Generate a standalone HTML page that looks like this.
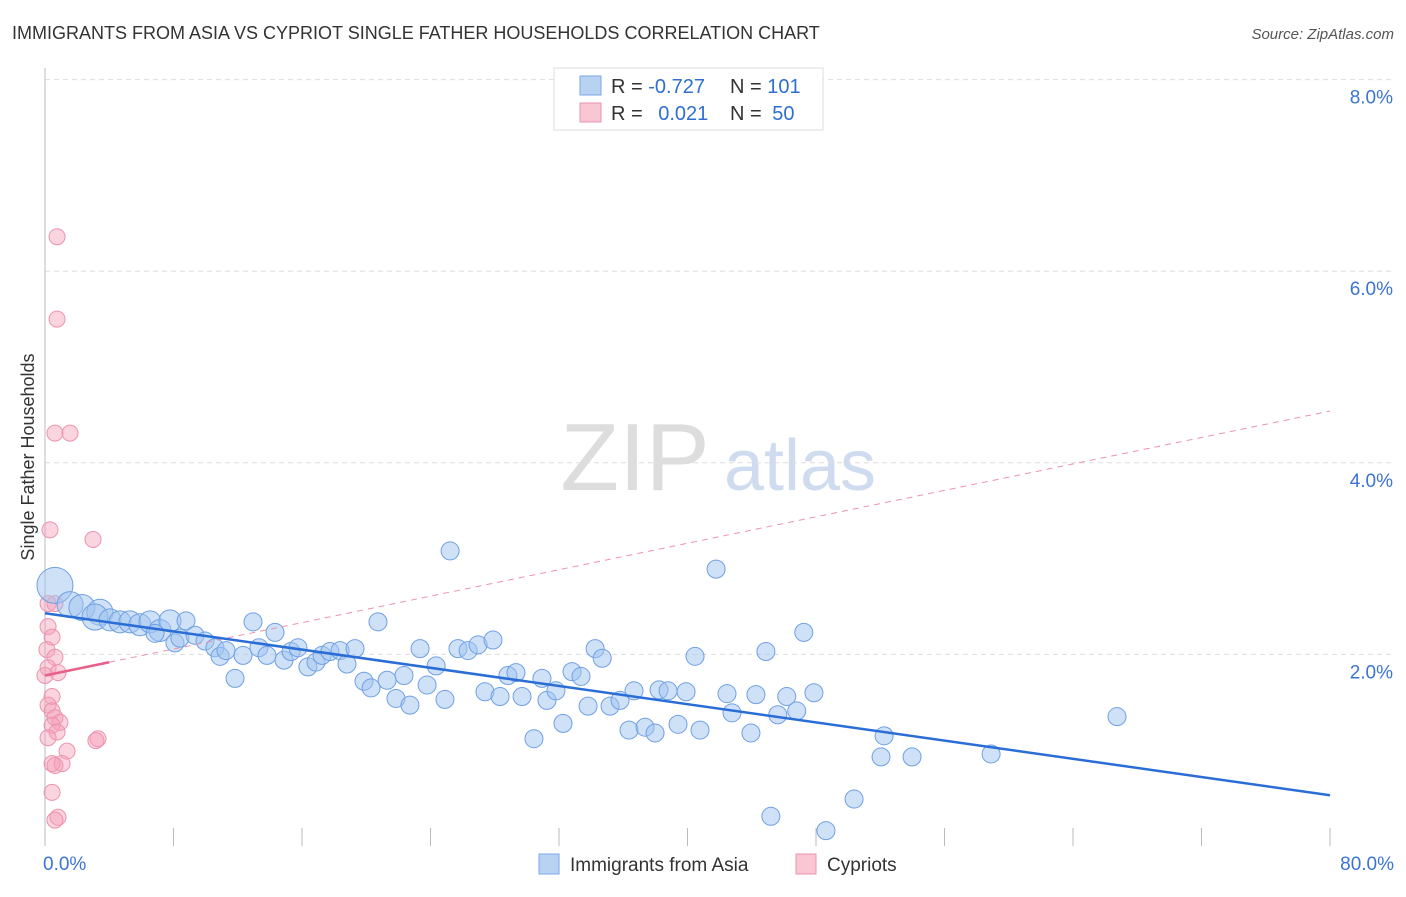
<!DOCTYPE html>
<html><head><meta charset="utf-8"><style>
body{margin:0;background:#fff;font-family:"Liberation Sans",sans-serif}
svg text{font-family:"Liberation Sans",sans-serif}
</style></head><body>
<svg id="c" width="1406" height="892" xmlns="http://www.w3.org/2000/svg">
<text x="12" y="39" font-size="18" fill="#333">IMMIGRANTS FROM ASIA VS CYPRIOT SINGLE FATHER HOUSEHOLDS CORRELATION CHART</text>
<text x="1394" y="39" font-size="15" fill="#555" font-style="italic" text-anchor="end">Source: ZipAtlas.com</text>
<text x="34" y="457" font-size="18" fill="#333" text-anchor="middle" transform="rotate(-90 34 457)">Single Father Households</text>
<g><text x="635" y="490" font-size="96" fill="#ddd" font-family="Liberation Serif" text-anchor="middle">ZIP</text><text x="800" y="490" font-size="72" fill="#cfdcf0" text-anchor="middle">atlas</text></g>
<g id="grid"></g><g id="marks"></g>
<g>
<rect x="554" y="68" width="269" height="62" fill="#fff" stroke="#ddd"/>
<rect x="580" y="76" width="21" height="19" fill="#b8d2f2" stroke="#7aa8e6"/>
<rect x="580" y="103" width="21" height="19" fill="#f9c6d4" stroke="#ec93ae"/>
<text x="611" y="93" font-size="20" fill="#333">R = <tspan fill="#2f6fd0">-0.727</tspan></text>
<text x="730" y="93" font-size="20" fill="#333">N = <tspan fill="#2f6fd0">101</tspan></text>
<text x="611" y="120" font-size="20" fill="#333">R = <tspan fill="#2f6fd0" dx="10">0.021</tspan></text>
<text x="730" y="120" font-size="20" fill="#333">N = <tspan fill="#2f6fd0" dx="5">50</tspan></text>
</g>
<g>
<rect x="539" y="854" width="20" height="20" fill="#b8d2f2" stroke="#7aa8e6"/>
<text x="570" y="871" font-size="19" fill="#333">Immigrants from Asia</text>
<rect x="796" y="854" width="20" height="20" fill="#f9c6d4" stroke="#ec93ae"/>
<text x="827" y="871" font-size="19" fill="#333">Cypriots</text>
</g>
</svg>
<script>
const yTicks=[2,4,6,8];
const yTickLabels=["2.0%","4.0%","6.0%","8.0%"];
const xTicks=[0,8,16,24,32,40,48,56,64,72,80];
const xEndLabels=["0.0%","80.0%"];
const asiaX=[0.62,1.56,2.30,3.42,3.11,4.05,4.67,5.29,5.91,6.54,7.16,7.78,8.78,8.09,6.85,8.40,9.34,9.96,10.58,10.90,11.27,11.83,12.33,12.95,13.32,13.82,14.32,14.88,15.32,15.75,16.37,16.87,17.25,17.74,18.37,18.80,19.30,19.86,20.30,20.73,21.30,21.85,22.35,22.72,23.35,23.79,24.35,24.90,25.22,25.71,26.34,26.96,27.39,27.89,28.33,28.82,29.32,29.70,30.44,30.94,31.25,31.81,32.25,32.81,33.37,33.81,34.25,34.69,35.18,35.80,36.36,36.67,37.36,37.98,38.23,38.79,39.41,39.91,40.47,40.78,41.78,42.46,42.77,43.95,44.26,44.88,45.19,45.62,46.18,46.80,47.24,47.87,48.62,50.37,52.05,52.24,53.98,58.90,66.74];
const asiaY=[2.72,2.52,2.49,2.44,2.39,2.36,2.34,2.34,2.31,2.34,2.25,2.35,2.35,2.12,2.22,2.17,2.20,2.14,2.07,1.98,2.04,1.75,1.99,2.34,2.07,1.99,2.23,1.94,2.03,2.07,1.87,1.92,1.99,2.03,2.04,1.90,2.06,1.72,1.65,2.34,1.73,1.54,1.78,1.47,2.06,1.68,1.88,1.53,3.08,2.06,2.04,2.10,1.61,2.15,1.56,1.78,1.81,1.56,1.12,1.75,1.52,1.62,1.28,1.82,1.77,1.46,2.06,1.96,1.46,1.52,1.21,1.62,1.24,1.18,1.63,1.62,1.27,1.61,1.98,1.21,2.89,1.59,1.39,1.18,1.58,2.03,0.31,1.37,1.56,1.41,2.23,1.60,0.16,0.49,0.93,1.15,0.93,0.96,1.35];
const cypX=[0.75,0.75,0.62,1.56,0.31,2.99,0.19,0.62,0.19,0.44,0.12,0.62,0.19,0.81,0.0,0.44,0.19,0.44,0.62,0.93,0.44,0.75,0.19,1.37,3.30,3.17,0.44,1.06,0.62,0.44,0.81,0.62];
const cypY=[6.36,5.50,4.31,4.31,3.30,3.20,2.53,2.53,2.29,2.18,2.05,1.97,1.86,1.81,1.78,1.56,1.47,1.41,1.34,1.29,1.26,1.19,1.13,0.99,1.12,1.10,0.86,0.86,0.84,0.56,0.30,0.27];
const asiaFit=[2.43,0.53];
const cypFit=[1.78,4.54];
const X=v=>45+v*1285/80, Y=v=>846-v*95.8;
const NS="http://www.w3.org/2000/svg";
function mk(t,a,p){const e=document.createElementNS(NS,t);for(const k in a)e.setAttribute(k,a[k]);p.appendChild(e);return e;}
const g=document.getElementById('grid'), m=document.getElementById('marks');
yTicks.forEach((t,i)=>{
 const l=mk('line',{x1:45,x2:1394,y1:Y(t),y2:Y(t),stroke:'#ddd','stroke-dasharray':'5,4'},g);
 
 
 const tx=mk('text',{x:1393,y:Y(t)+24,'font-size':19,fill:'#3b74d4','text-anchor':'end'},g);
 tx.textContent=yTickLabels[i];
 
 
});
const ax=mk('line',{x1:45,x2:45,y1:68,y2:846,stroke:'#bbb'},g);


xTicks.forEach(t=>{
 const l=mk('line',{x1:X(t),x2:X(t),y1:828,y2:846,stroke:'#bbb'},g);
 
 
});
[[0,'start',xEndLabels[0]],[80,'end',xEndLabels[1]]].forEach(([v,a,s])=>{
 const tx=mk('text',{x:v==0?X(v)-2:X(v)+64,y:870,'font-size':19,fill:'#3b74d4','text-anchor':a},g);
 tx.textContent=s;
 
 
});
cypX.forEach((x,i)=>{
 const c=mk('circle',{cx:X(x),cy:Y(cypY[i]),r:8,fill:'rgba(244,160,185,0.45)',stroke:'#ec93ae','stroke-width':1},m);
 
 
});
asiaX.forEach((x,i)=>{
 const r=i==0?18:(i<5?13:(i<12?11:9));
 const c=mk('circle',{cx:X(x),cy:Y(asiaY[i]),r:r,fill:'rgba(160,196,240,0.5)',stroke:'#6fa0e4','stroke-width':1},m);
 
 
});
const pd=mk('line',{x1:X(4),y1:Y(cypFit[0]+(cypFit[1]-cypFit[0])*4/80),x2:X(80),y2:Y(cypFit[1]),stroke:'#ec93ae','stroke-dasharray':'6,5','stroke-width':1},m);


const ps=mk('line',{x1:X(0),y1:Y(cypFit[0]),x2:X(4),y2:Y(cypFit[0]+(cypFit[1]-cypFit[0])*4/80),stroke:'#e85f8a','stroke-width':2.5},m);


const bl=mk('line',{x1:X(0),y1:Y(asiaFit[0]),x2:X(80),y2:Y(asiaFit[1]),stroke:'#2a6dd6','stroke-width':2.5},m);


</script>
</body></html>
